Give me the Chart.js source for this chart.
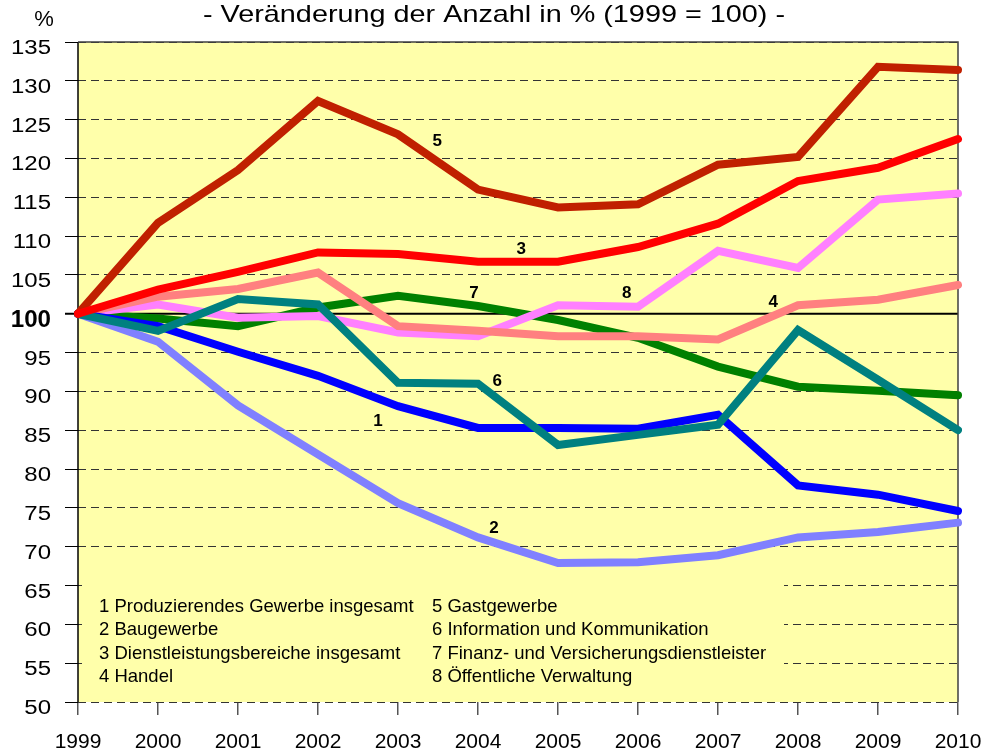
<!DOCTYPE html>
<html>
<head>
<meta charset="utf-8">
<script src="https://cdn.jsdelivr.net/npm/chart.js@4.4.1/dist/chart.umd.min.js"></script>
<style>
	html, body { margin: 0; padding: 0; background: #fff; }
	#wrap { width: 989px; height: 755px; }
</style>
</head>
<body>
<div id="wrap"><canvas id="myChart" width="989" height="755"></canvas></div>
<script>
const years = ['1999', '2000', '2001', '2002', '2003', '2004', '2005', '2006', '2007', '2008', '2009', '2010'];

const produzierend = [100, 98.4, 95.1, 92.0, 88.1, 85.3, 85.3, 85.2, 87.0, 77.9, 76.7, 74.6];
const bau = [100, 96.4, 88.2, 81.9, 75.6, 71.2, 67.9, 68.0, 68.9, 71.2, 71.9, 73.1];
const dienstleistung = [100, 103.1, 105.4, 107.9, 107.7, 106.7, 106.7, 108.6, 111.6, 117.1, 118.8, 122.5];
const handel = [100, 102.2, 103.2, 105.3, 98.4, 97.8, 97.1, 97.1, 96.7, 101.1, 101.8, 103.7];
const gastgewerbe = [100, 111.7, 118.5, 127.4, 123.1, 116.0, 113.7, 114.1, 119.2, 120.2, 131.8, 131.4];
const information = [100, 97.8, 101.9, 101.2, 91.1, 91.0, 83.1, 84.4, 85.7, 97.9, 91.5, 85.0];
const finanz = [100, 99.4, 98.4, 100.8, 102.3, 101.0, 99.2, 96.9, 93.2, 90.6, 90.1, 89.5];
const verwaltung = [100, 101.2, 99.5, 99.7, 97.6, 97.1, 101.1, 100.9, 108.1, 105.9, 114.7, 115.5];

const legend_left = ['1 Produzierendes Gewerbe insgesamt', '2 Baugewerbe', '3 Dienstleistungsbereiche insgesamt', '4 Handel'];
const legend_right = ['5 Gastgewerbe', '6 Information und Kommunikation', '7 Finanz- und Versicherungsdienstleister', '8 Öffentliche Verwaltung'];

// number labels next to the lines: [text, x (year index), y (value)]
const line_labels = [
	['5', 4.49, 122.2],
	['3', 5.54, 108.3],
	['7', 4.95, 102.6],
	['8', 6.86, 102.6],
	['4', 8.69, 101.5],
	['6', 5.24, 91.3],
	['1', 3.75, 86.1],
	['2', 5.2, 72.4],
];

const FONT = 'Arial, "Liberation Sans", sans-serif';

function series(data, color, order) {
	return {
		data: data,
		borderColor: color,
		backgroundColor: color,
		borderWidth: 8,
		borderCapStyle: 'round',
		pointRadius: 0,
		pointBorderWidth: 1,
		fill: false,
		tension: 0,
		order: order,
	};
}

// text widened in x like the original picture
function wideText(ctx, text, x, y, sx, align) {
	ctx.save();
	ctx.translate(x, y);
	ctx.scale(sx, 1);
	ctx.textAlign = align;
	ctx.fillText(text, 0, 0);
	ctx.restore();
}

const chartDecor = {
	id: 'chartDecor',
	beforeDraw(chart) {
		const { ctx, chartArea: a } = chart;
		ctx.save();
		ctx.fillStyle = '#ffffaa';
		ctx.fillRect(a.left, a.top, a.right - a.left, a.bottom - a.top);
		ctx.restore();
	},
	beforeDatasetsDraw(chart) {
		const { ctx, chartArea: a, scales } = chart;
		const y = scales.y;
		ctx.save();
		// legend box hides the grid lines below it
		ctx.fillStyle = '#ffffaa';
		ctx.fillRect(a.left + 4, y.getPixelForValue(66.5), 702, y.getPixelForValue(50.3) - y.getPixelForValue(66.5));
		ctx.fillStyle = '#000';
		ctx.font = '18.5px ' + FONT;
		ctx.textBaseline = 'middle';
		legend_left.forEach((t, i) => ctx.fillText(t, 99, 607 + i * 23.3));
		legend_right.forEach((t, i) => ctx.fillText(t, 432, 607 + i * 23.3));
		// 100 line
		ctx.strokeStyle = '#000';
		ctx.lineWidth = 2;
		ctx.beginPath();
		ctx.moveTo(a.left - 13, y.getPixelForValue(100));
		ctx.lineTo(a.right, y.getPixelForValue(100));
		ctx.stroke();
		// frame
		ctx.lineWidth = 1.5;
		ctx.strokeStyle = '#000';
		ctx.beginPath();
		ctx.moveTo(a.left, a.bottom);
		ctx.lineTo(a.left, a.top);
		ctx.stroke();
		ctx.strokeStyle = '#404040';
		ctx.beginPath();
		ctx.moveTo(a.left, a.top);
		ctx.lineTo(a.right, a.top);
		ctx.lineTo(a.right, a.bottom);
		ctx.stroke();
		// y tick labels
		ctx.textBaseline = 'alphabetic';
		y.ticks.forEach((t) => {
			const py = y.getPixelForValue(t.value);
			if (t.value === 100) {
				ctx.font = 'bold 23px ' + FONT;
				wideText(ctx, String(t.value), 51, py + 13, 1.05, 'right');
			} else {
				ctx.font = '20px ' + FONT;
				wideText(ctx, String(t.value), 51, py + 12, 1.2, 'right');
			}
		});
		ctx.restore();
	},
	afterDatasetsDraw(chart) {
		const { ctx, scales } = chart;
		ctx.save();
		ctx.fillStyle = '#000';
		ctx.font = 'bold 17px ' + FONT;
		ctx.textAlign = 'center';
		ctx.textBaseline = 'middle';
		line_labels.forEach((l) => {
			ctx.fillText(l[0], scales.x.getPixelForValue(l[1]), scales.y.getPixelForValue(l[2]));
		});
		ctx.textBaseline = 'alphabetic';
		ctx.font = '24px ' + FONT;
		wideText(ctx, '- Veränderung der Anzahl in % (1999 = 100) -', 494, 22, 1.2, 'center');
		ctx.font = '22px ' + FONT;
		ctx.fillText('%', 44, 26);
		ctx.restore();
	},
};

const chart_config = {
	type: 'line',
	data: {
		labels: years,
		datasets: [
			series(produzierend, '#0000ff', 3),
			series(bau, '#8080ff', 6),
			series(dienstleistung, '#ff0000', 0),
			series(handel, '#ff8080', 4),
			series(gastgewerbe, '#c02000', 1),
			series(information, '#008080', 2),
			series(finanz, '#008000', 7),
			series(verwaltung, '#ff80ff', 5),
		],
	},
	options: {
		responsive: false,
		animation: false,
		layout: { autoPadding: false, padding: { top: 42, right: 0, left: 0, bottom: 0 } },
		plugins: {
			legend: { display: false },
			title: { display: false },
			tooltip: { enabled: false },
		},
		scales: {
			x: {
				offset: false,
				afterFit: (s) => {
					s.height = 53;
					s.paddingLeft = 0;
					s.paddingRight = 31;
				},
				grid: {
					drawOnChartArea: false,
					drawTicks: true,
					tickLength: 13,
					color: '#555',
					lineWidth: 1.5,
				},
				border: { display: false },
				ticks: {
					color: '#000',
					font: { size: 21, family: FONT },
					padding: 15,
					maxRotation: 0,
					autoSkip: false,
				},
			},
			y: {
				min: 50,
				max: 135,
				afterFit: (s) => { s.width = 78; },
				grid: {
					color: '#333',
					lineWidth: 1,
					tickLength: 13,
					tickColor: '#000',
					tickBorderDash: [],
				},
				border: { display: false, dash: [8, 5] },
				ticks: {
					stepSize: 5,
					display: false,
				},
			},
		},
	},
	plugins: [chartDecor],
};

chart_config.data.datasets[2].pointRadius = (c) => (c.dataIndex === 0 ? 3 : 0);

const ctx = document.getElementById('myChart').getContext('2d');
const myChart = new Chart(ctx, chart_config);
</script>
</body>
</html>
